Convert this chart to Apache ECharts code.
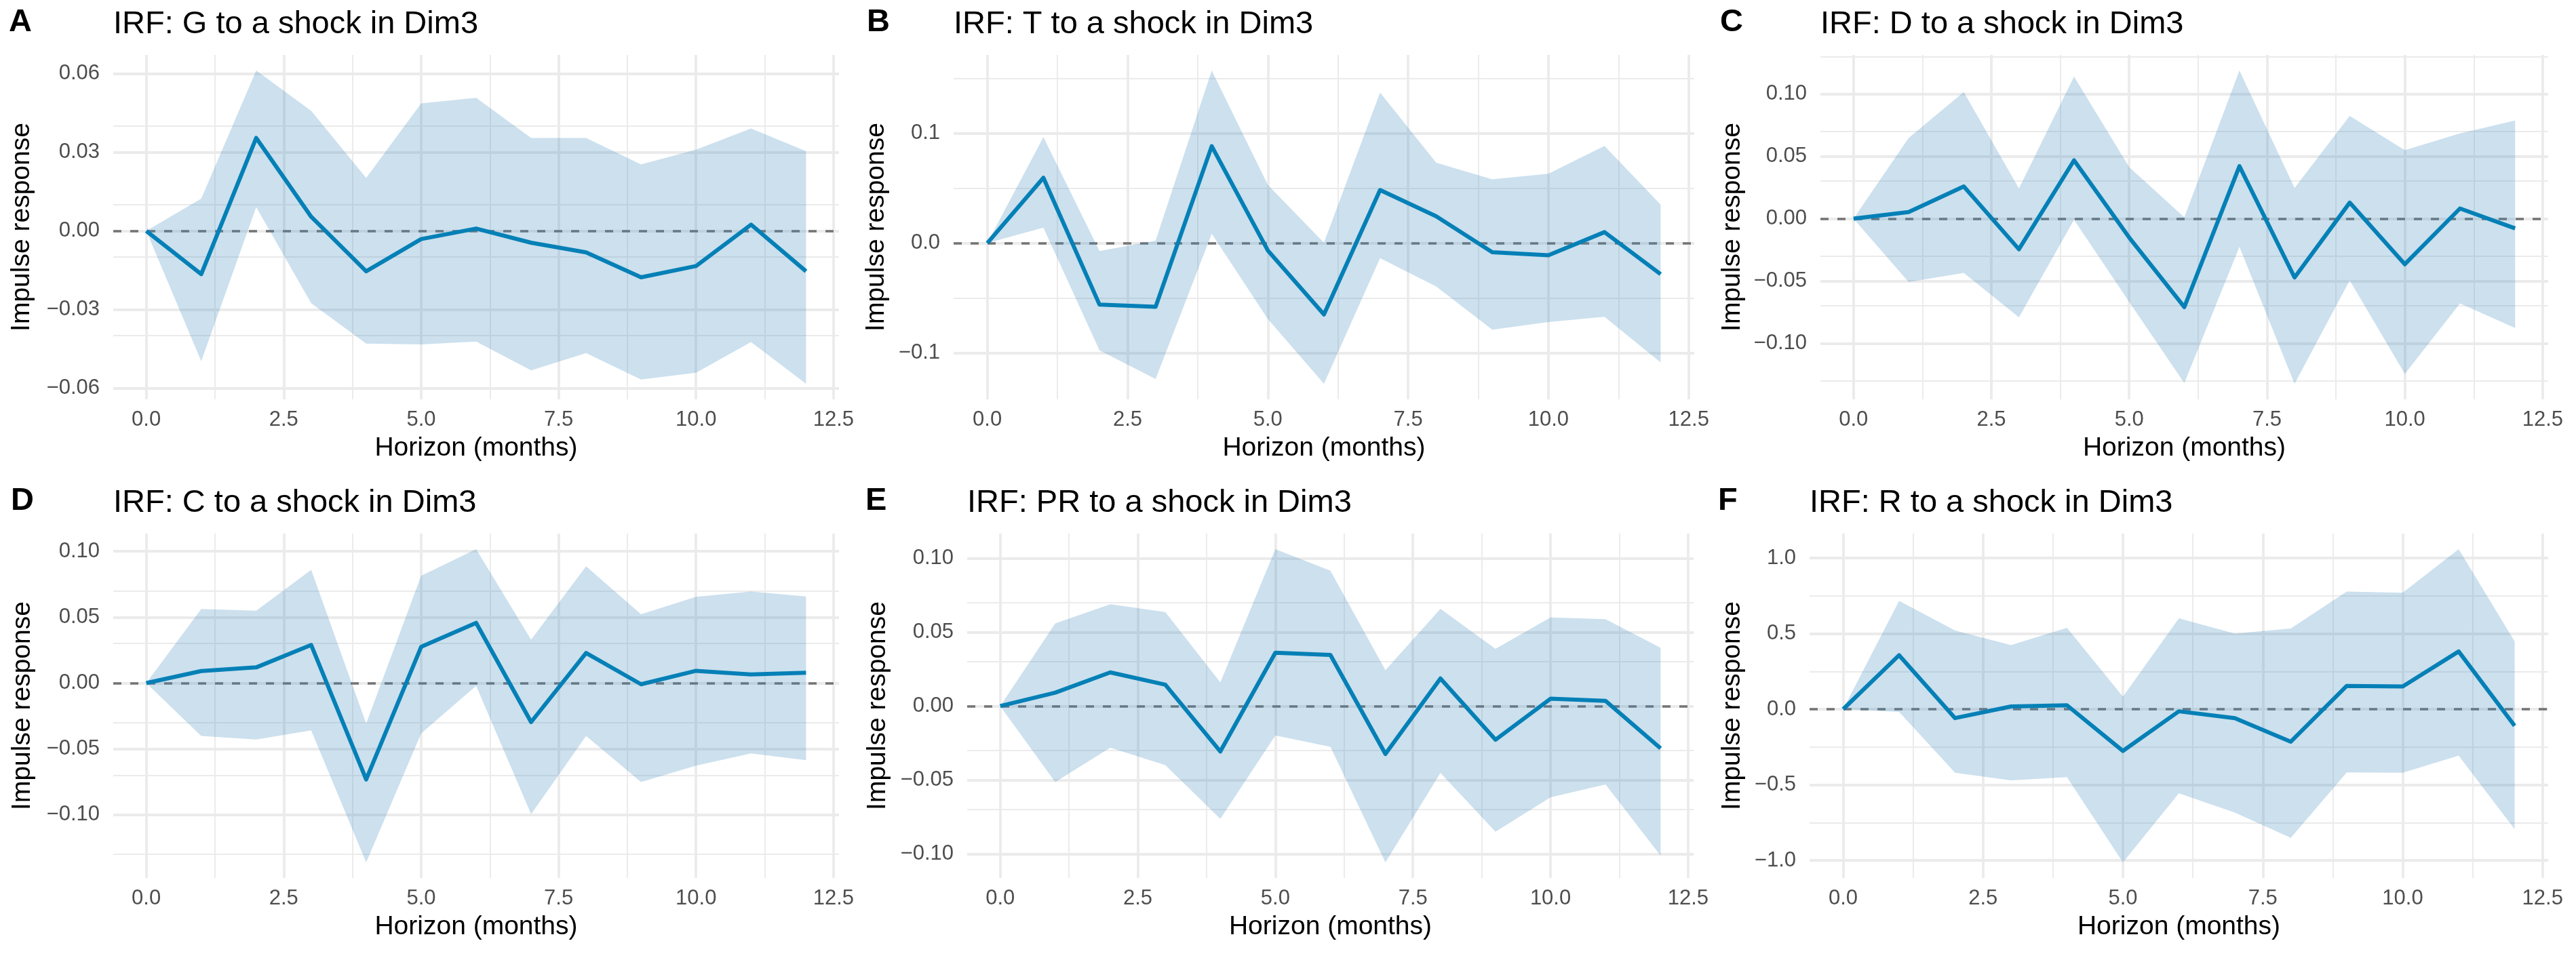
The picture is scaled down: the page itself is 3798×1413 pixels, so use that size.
<!DOCTYPE html>
<html>
<head>
<meta charset="utf-8">
<script src="https://cdn.jsdelivr.net/npm/echarts@6/dist/echarts.min.js"></script>
<style>
html,body{margin:0;padding:0;background:#ffffff;}
#chart{width:3798px;height:1413px;}
</style>
</head>
<body>
<div id="chart"></div>
<script>
// ---------------- data ----------------
const horizon = [0, 1, 2, 3, 4, 5, 6, 7, 8, 9, 10, 11, 12];
const xTicks = [0, 2.5, 5, 7.5, 10, 12.5];
const xTickLabels = ['0.0', '2.5', '5.0', '7.5', '10.0', '12.5'];
const xMinor = [1.25, 3.75, 6.25, 8.75, 11.25];

const panelTags = ['A', 'B', 'C', 'D', 'E', 'F'];
const panelTitles = [
  'IRF: G to a shock in Dim3',
  'IRF: T to a shock in Dim3',
  'IRF: D to a shock in Dim3',
  'IRF: C to a shock in Dim3',
  'IRF: PR to a shock in Dim3',
  'IRF: R to a shock in Dim3'
];
const xTitle = 'Horizon (months)';
const yTitle = 'Impulse response';

// G
const irfG = [0, -0.0165, 0.0355, 0.0054, -0.0154, -0.0031, 0.0009, -0.0045, -0.0082, -0.0177, -0.0134, 0.0024, -0.0154];
const lowG = [0, -0.0497, 0.0091, -0.0276, -0.0430, -0.0433, -0.0422, -0.0532, -0.0466, -0.0567, -0.0541, -0.0424, -0.0583];
const upG  = [0, 0.0123, 0.0612, 0.0458, 0.0202, 0.0487, 0.0508, 0.0355, 0.0355, 0.0254, 0.0310, 0.0391, 0.0304];
const yTicksG = [-0.06, -0.03, 0, 0.03, 0.06];
const yLabelsG = ['\u22120.06', '\u22120.03', '0.00', '0.03', '0.06'];
const yMinorG = [-0.045, -0.015, 0.015, 0.045];

// T
const irfT = [0, 0.0594, -0.0560, -0.0580, 0.0882, -0.0067, -0.0649, 0.0483, 0.0244, -0.0083, -0.0111, 0.0100, -0.0283];
const lowT = [0, 0.0141, -0.0976, -0.1237, 0.0086, -0.0691, -0.1279, -0.0136, -0.0394, -0.0788, -0.0718, -0.0671, -0.1085];
const upT  = [0, 0.0965, -0.0072, 0.0022, 0.1570, 0.0530, 0.0003, 0.1370, 0.0732, 0.0580, 0.0632, 0.0885, 0.0350];
const yTicksT = [-0.1, 0, 0.1];
const yLabelsT = ['\u22120.1', '0.0', '0.1'];
const yMinorT = [-0.05, 0.05, 0.15];

// D
const irfD = [0, 0.0052, 0.0258, -0.0246, 0.0467, -0.0152, -0.0710, 0.0420, -0.0472, 0.0128, -0.0366, 0.0081, -0.0079];
const lowD = [0, -0.0509, -0.0435, -0.0791, -0.0010, -0.0668, -0.1319, -0.0226, -0.1324, -0.0496, -0.1246, -0.0680, -0.0877];
const upD  = [0, 0.0646, 0.1015, 0.0241, 0.1138, 0.0413, 0.0010, 0.1187, 0.0246, 0.0823, 0.0548, 0.0683, 0.0786];
const yTicksD = [-0.10, -0.05, 0, 0.05, 0.10];
const yLabelsD = ['\u22120.10', '\u22120.05', '0.00', '0.05', '0.10'];
const yMinorD = [-0.125, -0.075, -0.025, 0.025, 0.075, 0.125];

// C
const irfC = [0, 0.0091, 0.0119, 0.0289, -0.0732, 0.0275, 0.0457, -0.0296, 0.0228, -0.0009, 0.0093, 0.0065, 0.0079];
const lowC = [0, -0.0401, -0.0429, -0.0359, -0.1361, -0.0382, -0.0021, -0.0995, -0.0401, -0.0751, -0.0627, -0.0534, -0.0585];
const upC  = [0, 0.0562, 0.0550, 0.0860, -0.0308, 0.0814, 0.1016, 0.0329, 0.0886, 0.0522, 0.0655, 0.0695, 0.0657];
const yTicksC = [-0.10, -0.05, 0, 0.05, 0.10];
const yLabelsC = ['\u22120.10', '\u22120.05', '0.00', '0.05', '0.10'];
const yMinorC = [-0.125, -0.075, -0.025, 0.025, 0.075];

// PR
const irfPR = [0, 0.0091, 0.0228, 0.0145, -0.0307, 0.0361, 0.0346, -0.0324, 0.0187, -0.0228, 0.0050, 0.0035, -0.0286];
const lowPR = [0, -0.0515, -0.0282, -0.0400, -0.0763, -0.0199, -0.0276, -0.1058, -0.0452, -0.0851, -0.0618, -0.0531, -0.1012];
const upPR  = [0, 0.0560, 0.0689, 0.0637, 0.0160, 0.1062, 0.0917, 0.0243, 0.0658, 0.0388, 0.0600, 0.0589, 0.0394];
const yTicksPR = [-0.10, -0.05, 0, 0.05, 0.10];
const yLabelsPR = ['\u22120.10', '\u22120.05', '0.00', '0.05', '0.10'];
const yMinorPR = [-0.075, -0.025, 0.025, 0.075];

// R
const irfR = [0, 0.357, -0.059, 0.018, 0.026, -0.276, -0.014, -0.059, -0.215, 0.154, 0.150, 0.382, -0.110];
const lowR = [0, -0.018, -0.420, -0.471, -0.449, -1.013, -0.556, -0.684, -0.851, -0.418, -0.420, -0.307, -0.794];
const upR  = [0, 0.717, 0.520, 0.424, 0.538, 0.083, 0.601, 0.500, 0.534, 0.778, 0.770, 1.058, 0.449];
const yTicksR = [-1.0, -0.5, 0, 0.5, 1.0];
const yLabelsR = ['\u22121.0', '\u22120.5', '0.0', '0.5', '1.0'];
const yMinorR = [-0.75, -0.25, 0.25, 0.75];

// ---------------- layout & style ----------------
const panels = [
  { irf: irfG, low: lowG, up: upG, yTicks: yTicksG, yLabels: yLabelsG, yMinor: yMinorG },
  { irf: irfT, low: lowT, up: upT, yTicks: yTicksT, yLabels: yLabelsT, yMinor: yMinorT },
  { irf: irfD, low: lowD, up: upD, yTicks: yTicksD, yLabels: yLabelsD, yMinor: yMinorD },
  { irf: irfC, low: lowC, up: upC, yTicks: yTicksC, yLabels: yLabelsC, yMinor: yMinorC },
  { irf: irfPR, low: lowPR, up: upPR, yTicks: yTicksPR, yLabels: yLabelsPR, yMinor: yMinorPR },
  { irf: irfR, low: lowR, up: upR, yTicks: yTicksR, yLabels: yLabelsR, yMinor: yMinorR }
];
const layout = [
  { left: 167,  right: 1237, top: 81,  bottom: 589,  tagX: 13,   yTitleX: 32 },
  { left: 1406, right: 2498, top: 81,  bottom: 589,  tagX: 1278, yTitleX: 1292 },
  { left: 2684, right: 3757, top: 81,  bottom: 589,  tagX: 2536, yTitleX: 2554 },
  { left: 167,  right: 1237, top: 787, bottom: 1295, tagX: 16,   yTitleX: 33 },
  { left: 1426, right: 2497, top: 787, bottom: 1295, tagX: 1276, yTitleX: 1294 },
  { left: 2668, right: 3757, top: 787, bottom: 1295, tagX: 2533, yTitleX: 2554 }
];
const FONT = '"Liberation Sans", Arial, sans-serif';
const LINE_COLOR = '#0580B6';
const BAND_COLOR = 'rgba(59,135,191,0.26)';
const GRID_COLOR = '#EBEBEB';
const ZERO_COLOR = '#747474';

const grids = [], xAxes = [], yAxes = [], series = [], graphics = [];

panels.forEach((p, i) => {
  const L = layout[i];
  const dMin = Math.min(...p.low), dMax = Math.max(...p.up);
  const pad = 0.05 * (dMax - dMin);
  const yMin = dMin - pad, yMax = dMax + pad;

  grids.push({ left: L.left, top: L.top, width: L.right - L.left, height: L.bottom - L.top,
    containLabel: false, outerBoundsMode: 'none' });

  xAxes.push({
    gridIndex: i, type: 'value', min: -0.6, max: 12.6,
    axisLine: { show: false }, axisTick: { show: false, customValues: xTicks },
    splitLine: { show: false }, minorSplitLine: { show: false },
    axisLabel: {
      customValues: xTicks, margin: 15, color: '#4D4D4D', fontSize: 31, fontFamily: FONT, lineHeight: 31,
      formatter: v => { const k = xTicks.findIndex(t => Math.abs(t - v) < 1e-9); return k >= 0 ? xTickLabels[k] : ''; }
    }
  });
  yAxes.push({
    gridIndex: i, type: 'value', min: yMin, max: yMax,
    axisLine: { show: false }, axisTick: { show: false, customValues: p.yTicks },
    splitLine: { show: false }, minorSplitLine: { show: false },
    axisLabel: {
      customValues: p.yTicks, margin: 20, color: '#4D4D4D', fontSize: 31, fontFamily: FONT,
      formatter: v => { const k = p.yTicks.findIndex(t => Math.abs(t - v) < 1e-9); return k >= 0 ? p.yLabels[k] : ''; }
    }
  });

  const gridLines = [];
  xTicks.forEach(v => gridLines.push({ xAxis: v, lineStyle: { width: 3.8, color: GRID_COLOR, type: 'solid' } }));
  xMinor.forEach(v => gridLines.push({ xAxis: v, lineStyle: { width: 1.9, color: GRID_COLOR, type: 'solid' } }));
  p.yTicks.forEach(v => gridLines.push({ yAxis: v, lineStyle: { width: 3.8, color: GRID_COLOR, type: 'solid' } }));
  p.yMinor.forEach(v => gridLines.push({ yAxis: v, lineStyle: { width: 1.9, color: GRID_COLOR, type: 'solid' } }));

  // gridlines (helper series)
  series.push({
    type: 'line', xAxisIndex: i, yAxisIndex: i, data: [], silent: true, z: 1,
    markLine: { silent: true, z: 1, symbol: ['none', 'none'], label: { show: false },
      emphasis: { disabled: true }, animation: false, data: gridLines }
  });
  // zero reference line
  series.push({
    type: 'line', xAxisIndex: i, yAxisIndex: i, data: [], silent: true, z: 2,
    markLine: { silent: true, z: 2, symbol: ['none', 'none'], label: { show: false },
      emphasis: { disabled: true }, animation: false,
      data: [{ yAxis: 0, lineStyle: { width: 3.5, color: ZERO_COLOR, type: [12, 13] } }] }
  });
  // confidence band
  series.push({
    type: 'custom', xAxisIndex: i, yAxisIndex: i, z: 3, silent: true,
    data: horizon.map((x, k) => [x, p.low[k], p.up[k]]),
    encode: { x: 0, y: [1, 2] },
    renderItem: (params, api) => {
      if (params.dataIndex !== 0) return null;
      const pts = [];
      horizon.forEach((x, k) => pts.push(api.coord([x, p.up[k]])));
      for (let k = horizon.length - 1; k >= 0; k--) pts.push(api.coord([horizon[k], p.low[k]]));
      return { type: 'polygon', shape: { points: pts }, style: { fill: BAND_COLOR, stroke: null } };
    }
  });
  // impulse response
  series.push({
    type: 'line', xAxisIndex: i, yAxisIndex: i, z: 4, silent: true,
    data: horizon.map((x, k) => [x, p.irf[k]]),
    showSymbol: false, symbol: 'none',
    lineStyle: { color: LINE_COLOR, width: 6, join: 'round', cap: 'butt' }
  });

  const rowOff = L.top - 81;
  graphics.push({ type: 'text', x: L.tagX, y: 33 + rowOff,
    style: { text: panelTags[i], font: 'bold 47px ' + FONT, fill: '#000', align: 'left', verticalAlign: 'middle' } });
  graphics.push({ type: 'text', x: L.left, y: 36 + rowOff,
    style: { text: panelTitles[i], font: '47px ' + FONT, fill: '#000', align: 'left', verticalAlign: 'middle' } });
  graphics.push({ type: 'text', x: (L.left + L.right) / 2, y: 661 + rowOff,
    style: { text: xTitle, font: '39px ' + FONT, fill: '#000', align: 'center', verticalAlign: 'middle' } });
  graphics.push({ type: 'text', x: L.yTitleX, y: (L.top + L.bottom) / 2, rotation: Math.PI / 2,
    style: { text: yTitle, font: '39px ' + FONT, fill: '#000', align: 'center', verticalAlign: 'middle' } });
});

const chart = echarts.init(document.getElementById('chart'), null, { renderer: 'canvas', width: 3798, height: 1413 });
chart.setOption({
  backgroundColor: '#ffffff',
  animation: false,
  grid: grids,
  xAxis: xAxes,
  yAxis: yAxes,
  series: series,
  graphic: { elements: graphics }
});
</script>
</body>
</html>
